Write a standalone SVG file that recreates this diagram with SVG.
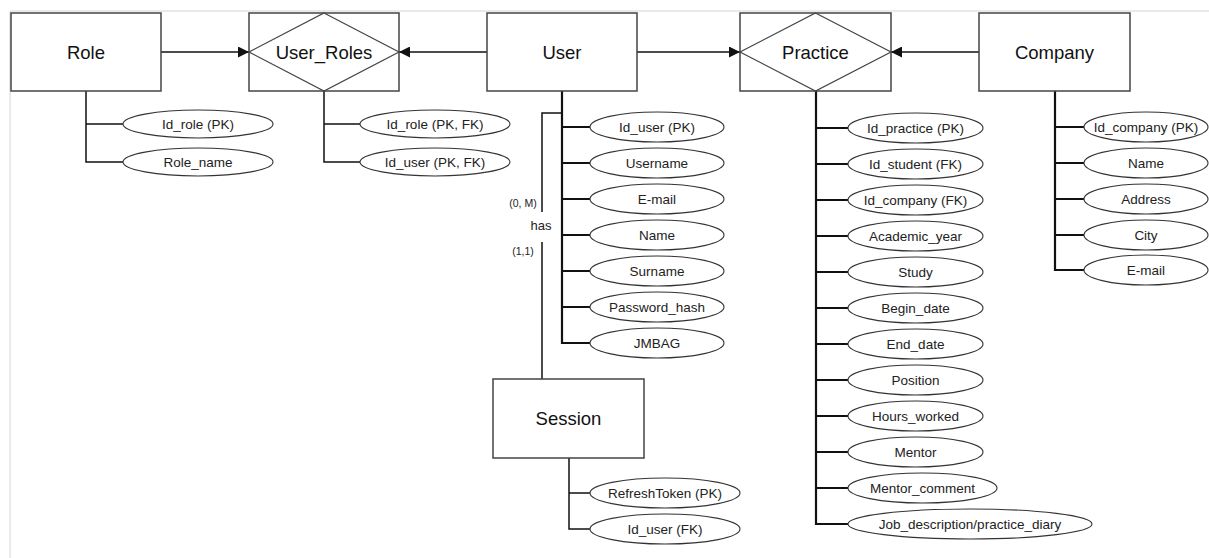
<svg xmlns="http://www.w3.org/2000/svg" width="1209" height="558" viewBox="0 0 1209 558">
<defs>
<marker id="arr" markerUnits="userSpaceOnUse" markerWidth="12" markerHeight="11" refX="11" refY="5.5" orient="auto"><path d="M0,0 L11,5.5 L0,11 Z" fill="#111"/></marker>
<style>
.box{fill:#fff;stroke:#444;stroke-width:1.5}
.dia{fill:none;stroke:#444;stroke-width:1.2}
.ell{fill:#fff;stroke:#333;stroke-width:1.1}
.ln{fill:none;stroke:#111;stroke-width:1.5}
.lnb{fill:none;stroke:#111;stroke-width:2.2}
.ent{font-family:"Liberation Sans",Arial,sans-serif;font-size:18.5px;fill:#111;text-anchor:middle;dominant-baseline:central}
.att{font-family:"Liberation Sans",Arial,sans-serif;font-size:13.5px;fill:#222;text-anchor:middle;dominant-baseline:central}
.sm{font-family:"Liberation Sans",Arial,sans-serif;font-size:10.5px;fill:#222;text-anchor:middle;dominant-baseline:central}
</style>
</defs>
<rect width="1209" height="558" fill="#fff"/>
<path d="M10,558 V11 H1209" fill="none" stroke="#d4d4d4" stroke-width="1"/>

<g id="connectors">
<line class="ln" x1="161" y1="52" x2="249" y2="52" marker-end="url(#arr)"/>
<line class="ln" x1="487" y1="52" x2="399" y2="52" marker-end="url(#arr)"/>
<line class="ln" x1="637" y1="52" x2="740" y2="52" marker-end="url(#arr)"/>
<line class="ln" x1="979" y1="52" x2="891" y2="52" marker-end="url(#arr)"/>
<!-- has relationship -->
<path class="ln" d="M562,113 H542 V212"/>
<line class="ln" x1="542" y1="242" x2="542" y2="379"/>
<text class="sm" x="523" y="203">(0, M)</text>
<text class="att" x="541" y="225" style="font-size:13px">has</text>
<text class="sm" x="523" y="251">(1,1)</text>
<!-- attribute trees -->
<path class="ln" d="M86,91 V162 H123 M86,124 H123"/>
<path class="ln" d="M324,91 V162 H360 M324,124 H360"/>
<path class="lnb" d="M562,91 V343 H590 M562,127 H590 M562,163 H590 M562,199 H590 M562,235 H590 M562,271 H590 M562,307 H590"/>
<path class="lnb" d="M816,91 V524 H848 M816,128 H848 M816,164 H848 M816,200 H848 M816,236 H848 M816,272 H848 M816,308 H848 M816,344 H848 M816,380 H848 M816,416 H848 M816,452 H848 M816,488 H848"/>
<path class="lnb" d="M1055,91 V270 H1084 M1055,127 H1084 M1055,163 H1084 M1055,199 H1084 M1055,235 H1084"/>
<path class="ln" d="M569,458 V529 H590 M569,493 H590"/>
</g>

<g id="role">
<rect class="box" x="11" y="13" width="150" height="78"/>
<text class="ent" x="86" y="52">Role</text>
</g>
<g id="user_roles">
<rect class="box" x="249" y="13" width="150" height="78"/>
<path class="dia" d="M324,13 L399,52 L324,91 L249,52 Z"/>
<text class="ent" x="324" y="52">User_Roles</text>
</g>
<g id="user">
<rect class="box" x="487" y="13" width="150" height="78"/>
<text class="ent" x="562" y="52">User</text>
</g>
<g id="practice">
<rect class="box" x="740" y="13" width="151" height="78"/>
<path class="dia" d="M815.5,13 L891,52 L815.5,91 L740,52 Z"/>
<text class="ent" x="815.5" y="52">Practice</text>
</g>
<g id="company">
<rect class="box" x="979" y="13" width="151" height="78"/>
<text class="ent" x="1054.5" y="52">Company</text>
</g>
<g id="session">
<rect class="box" x="493" y="379" width="151" height="79"/>
<text class="ent" x="568.5" y="418">Session</text>
</g>

<g id="role_attrs">
<ellipse class="ell" cx="198" cy="124" rx="75" ry="14"/><text class="att" x="198" y="124">Id_role (PK)</text>
<ellipse class="ell" cx="198" cy="162" rx="75" ry="14"/><text class="att" x="198" y="162">Role_name</text>
</g>
<g id="user_roles_attrs">
<ellipse class="ell" cx="435" cy="124" rx="75" ry="14"/><text class="att" x="435" y="124">Id_role (PK, FK)</text>
<ellipse class="ell" cx="435" cy="162" rx="75" ry="14"/><text class="att" x="435" y="162">Id_user (PK, FK)</text>
</g>
<g id="user_attrs">
<ellipse class="ell" cx="657" cy="127" rx="67" ry="15"/><text class="att" x="657" y="127">Id_user (PK)</text>
<ellipse class="ell" cx="657" cy="163" rx="67" ry="15"/><text class="att" x="657" y="163">Username</text>
<ellipse class="ell" cx="657" cy="199" rx="67" ry="15"/><text class="att" x="657" y="199">E-mail</text>
<ellipse class="ell" cx="657" cy="235" rx="67" ry="15"/><text class="att" x="657" y="235">Name</text>
<ellipse class="ell" cx="657" cy="271" rx="67" ry="15"/><text class="att" x="657" y="271">Surname</text>
<ellipse class="ell" cx="657" cy="307" rx="67" ry="15"/><text class="att" x="657" y="307">Password_hash</text>
<ellipse class="ell" cx="657" cy="343" rx="67" ry="15"/><text class="att" x="657" y="343">JMBAG</text>
</g>
<g id="session_attrs">
<ellipse class="ell" cx="665" cy="493" rx="75" ry="15"/><text class="att" x="665" y="493">RefreshToken (PK)</text>
<ellipse class="ell" cx="665" cy="529" rx="75" ry="15"/><text class="att" x="665" y="529">Id_user (FK)</text>
</g>
<g id="practice_attrs">
<ellipse class="ell" cx="915.5" cy="128" rx="67.5" ry="15"/><text class="att" x="915.5" y="128">Id_practice (PK)</text>
<ellipse class="ell" cx="915.5" cy="164" rx="67.5" ry="15"/><text class="att" x="915.5" y="164">Id_student (FK)</text>
<ellipse class="ell" cx="915.5" cy="200" rx="67.5" ry="15"/><text class="att" x="915.5" y="200">Id_company (FK)</text>
<ellipse class="ell" cx="915.5" cy="236" rx="67.5" ry="15"/><text class="att" x="915.5" y="236">Academic_year</text>
<ellipse class="ell" cx="915.5" cy="272" rx="67.5" ry="15"/><text class="att" x="915.5" y="272">Study</text>
<ellipse class="ell" cx="915.5" cy="308" rx="67.5" ry="15"/><text class="att" x="915.5" y="308">Begin_date</text>
<ellipse class="ell" cx="915.5" cy="344" rx="67.5" ry="15"/><text class="att" x="915.5" y="344">End_date</text>
<ellipse class="ell" cx="915.5" cy="380" rx="67.5" ry="15"/><text class="att" x="915.5" y="380">Position</text>
<ellipse class="ell" cx="915.5" cy="416" rx="67.5" ry="15"/><text class="att" x="915.5" y="416">Hours_worked</text>
<ellipse class="ell" cx="915.5" cy="452" rx="67.5" ry="15"/><text class="att" x="915.5" y="452">Mentor</text>
<ellipse class="ell" cx="922.5" cy="488" rx="74.5" ry="15"/><text class="att" x="922.5" y="488">Mentor_comment</text>
<ellipse class="ell" cx="970" cy="524" rx="122" ry="15"/><text class="att" x="970" y="524">Job_description/practice_diary</text>
</g>
<g id="company_attrs">
<ellipse class="ell" cx="1146" cy="127" rx="62" ry="15"/><text class="att" x="1146" y="127">Id_company (PK)</text>
<ellipse class="ell" cx="1146" cy="163" rx="62" ry="15"/><text class="att" x="1146" y="163">Name</text>
<ellipse class="ell" cx="1146" cy="199" rx="62" ry="15"/><text class="att" x="1146" y="199">Address</text>
<ellipse class="ell" cx="1146" cy="235" rx="62" ry="15"/><text class="att" x="1146" y="235">City</text>
<ellipse class="ell" cx="1146" cy="270" rx="62" ry="15"/><text class="att" x="1146" y="270">E-mail</text>
</g>
</svg>
